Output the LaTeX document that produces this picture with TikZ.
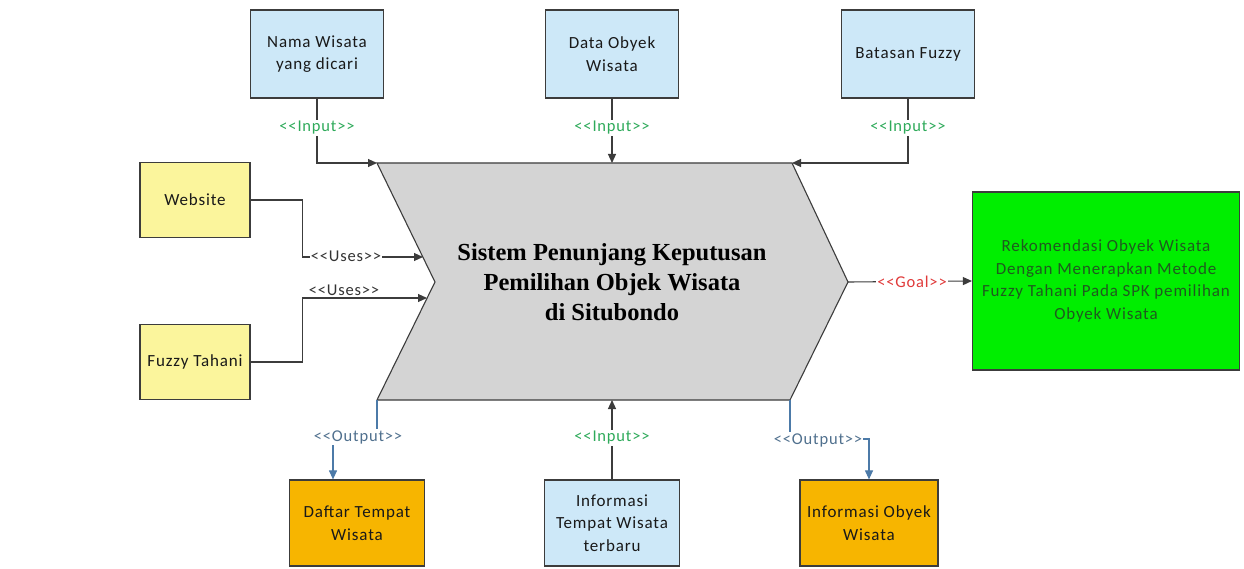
\documentclass[tikz,border=0pt]{standalone}
\usepackage{fontspec}
\setmainfont{Carlito}[Ligatures=TeXOff, LetterSpace=5]
\newfontfamily\titlefont{Liberation Serif}
\usetikzlibrary{arrows.meta}
\definecolor{lblue}{HTML}{CDE8F8}
\definecolor{lyellow}{HTML}{FBF59C}
\definecolor{orangebox}{HTML}{F7B500}
\definecolor{greenbox}{HTML}{00EE00}
\definecolor{greentext}{HTML}{1F5A1F}
\definecolor{chevgray}{HTML}{D4D4D4}
\definecolor{boxline}{HTML}{3C3C3C}
\definecolor{inlabel}{HTML}{2EAA5A}
\definecolor{outline}{HTML}{4C7AA8}
\definecolor{outlabel}{HTML}{50708E}
\definecolor{goallabel}{HTML}{E03A3A}
\tikzset{
  box/.style={draw=boxline, line width=1.2pt, align=center, inner sep=0pt,
    font=\fontsize{17}{22.5}\selectfont, text=black!90},
  smallbox/.style={box, minimum width=133pt, minimum height=88pt},
  sidebox/.style={box, minimum width=110pt, minimum height=75pt, fill=lyellow},
  conn/.style={draw=boxline, line width=1.1pt, -{Triangle[length=9pt,width=8pt]}},
  outconn/.style={draw=outline, line width=1.1pt, -{Triangle[length=9pt,width=8pt]}},
  lbl/.style={fill=white, inner sep=1pt, font=\fontsize{16.5}{18}\selectfont},
  inlbl/.style={lbl, text=inlabel},
  outlbl/.style={lbl, text=outlabel},
}
\begin{document}
\begin{tikzpicture}[x=1pt,y=-1pt]
\useasboundingbox[fill=white] (0,0) rectangle (1244,569);

% chevron corners
\coordinate (ctl) at (377,163);
\coordinate (ctr) at (792,163);
\coordinate (ctip) at (848,282);
\coordinate (cbr) at (790,400);
\coordinate (cbl) at (377,400);
\coordinate (cnotch) at (435,282);
\coordinate (ctopmid) at (612,163);
\coordinate (cbotmid) at (612,400);
\coordinate (u1) at (423,257);
\coordinate (u2) at (427,298);

\draw[fill=chevgray, draw=boxline, line width=1.1pt]
  (ctl) -- (ctr) -- (ctip) -- (cbr) -- (cbl) -- (cnotch) -- cycle;
\node[font=\titlefont\bfseries\fontsize{24.5}{30}\selectfont, align=center] (title) at (612,282)
  {Sistem Penunjang Keputusan\\Pemilihan Objek Wisata\\di Situbondo};

% top boxes
\node[smallbox, fill=lblue] (nama) at (317,54) {Nama Wisata\\yang dicari};
\node[smallbox, fill=lblue] (data) at (612,54) {Data Obyek\\Wisata};
\node[smallbox, fill=lblue] (batas) at (908,54) {Batasan Fuzzy};

% side boxes
\node[sidebox] (web) at (195,200) {Website};
\node[sidebox] (fuzzy) at (195,362) {Fuzzy Tahani};

% goal box
\node[box, fill=greenbox, minimum width=267pt, minimum height=178pt, text=greentext,
  font=\fontsize{17}{22.5}\selectfont] (goal) at (1106,281)
  {Rekomendasi Obyek Wisata\\Dengan Menerapkan Metode\\Fuzzy Tahani Pada SPK pemilihan\\Obyek Wisata};

% bottom boxes
\node[box, fill=orangebox, minimum width=135pt, minimum height=86pt] (daftar) at (357,523) {Daftar Tempat\\Wisata};
\node[box, fill=lblue, minimum width=135pt, minimum height=86pt] (infot) at (612,523) {Informasi\\Tempat Wisata\\terbaru};
\node[box, fill=orangebox, minimum width=138pt, minimum height=86pt] (infob) at (869,523) {Informasi Obyek\\Wisata};
\coordinate (o1) at ([xshift=-24pt]daftar.north);

% input connectors
\draw[conn] (nama.south) |- (ctl);
\node[inlbl] (l1) at (317,128) {<<Input>>};
\draw[conn] (data.south) -- (ctopmid);
\node[inlbl] (l2) at (612,128) {<<Input>>};
\draw[conn] (batas.south) |- (ctr);
\node[inlbl] (l3) at (908,128) {<<Input>>};
\draw[conn] (infot.north) -- (cbotmid);
\node[inlbl] (l4) at (612,438) {<<Input>>};

% uses connectors
\draw[conn] (web.east) -- ++(52,0) |- (u1);
\node[lbl, text=black!80] (l5) at (346,256) {<<Uses>>};
\draw[conn] (fuzzy.east) -- ++(52,0) |- (u2);
\node[lbl, text=black!80] (l6) at (344,290) {<<Uses>>};

% goal connector
\draw[conn] (ctip) -- (goal.west);
\node[lbl, text=goallabel] (l7) at (912,282) {<<Goal>>};

% output connectors
\draw[outconn] (cbl) -- ++(0,37) -| (o1);
\node[outlbl] (l8) at (358,437) {<<Output>>};
\draw[outconn] (cbr) -- ++(0,39) -| (infob.north);
\node[outlbl] (l9) at (818,440) {<<Output>>};
\end{tikzpicture}
\end{document}
